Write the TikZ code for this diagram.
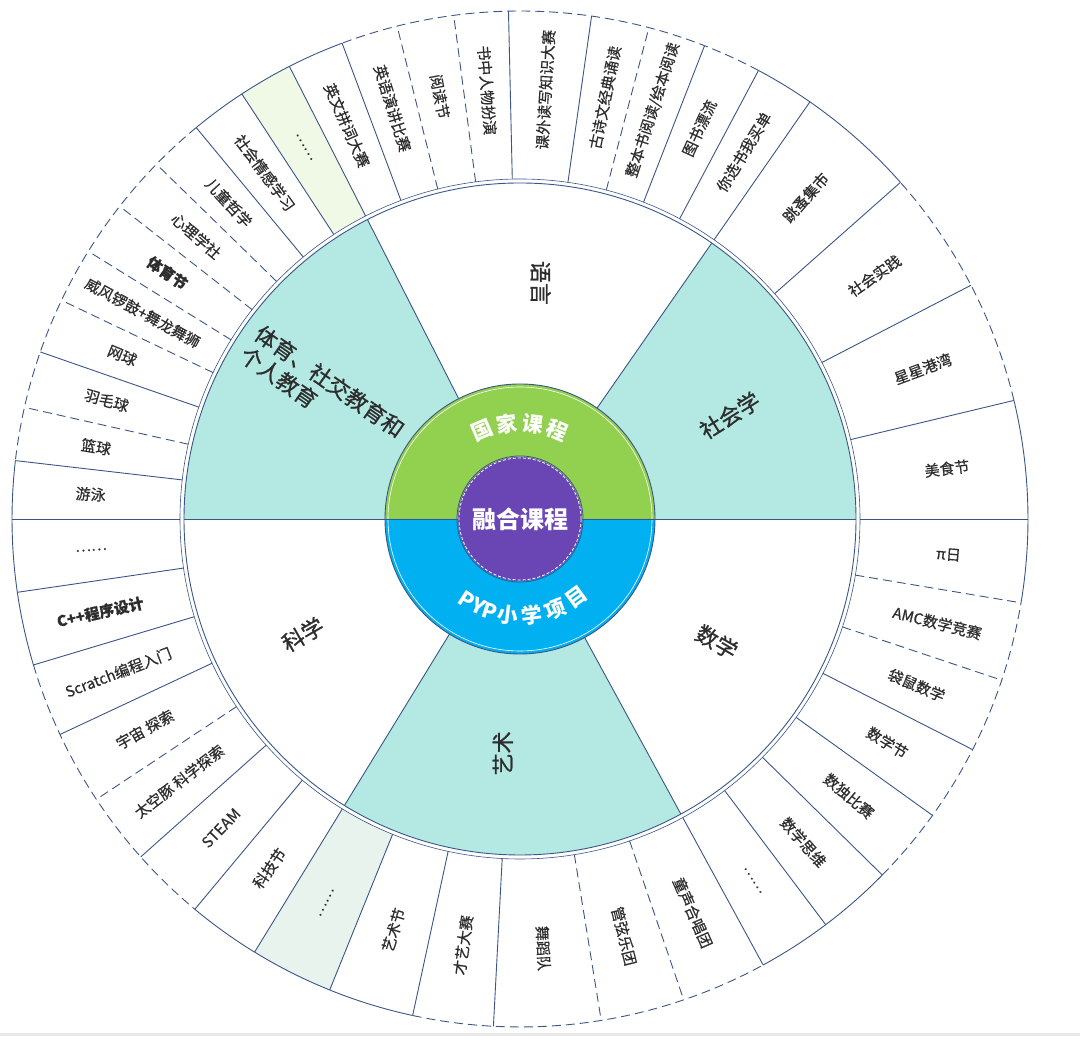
\documentclass[tikz,border=0pt]{standalone}
\usepackage{fontspec}
\setmainfont{Noto Sans CJK SC}
\newfontfamily\medf{Noto Sans CJK SC}[FakeBold=0.6]
\newfontfamily\midf{Noto Sans CJK SC}[FakeBold=0.9]
\definecolor{lc}{RGB}{59,85,135}
\definecolor{tealf}{RGB}{179,233,226}
\definecolor{grn}{RGB}{146,208,80}
\definecolor{blu}{RGB}{0,176,240}
\definecolor{pur}{RGB}{106,70,180}
\definecolor{lgA}{RGB}{240,248,230}
\definecolor{lgB}{RGB}{232,243,238}
\definecolor{txt}{RGB}{45,45,45}
\newcommand\slsh{/}
\begin{document}
\begin{tikzpicture}[x=1pt,y=1pt,line join=round,
  sol/.style={draw=lc,line width=0.9pt},
  dsh/.style={draw=lc,line width=0.9pt,dash pattern=on 9pt off 5pt},
  olab/.style={font=\fontsize{15}{15}\selectfont\medf,text=txt,inner sep=0pt},
  mlab/.style={font=\fontsize{22}{26}\selectfont\midf,text=txt,inner sep=0pt},
  cch/.style={font=\fontsize{21}{21}\selectfont\bfseries,text=white,inner sep=0pt}]
\useasboundingbox (0,0) rectangle (1080,1043);
\fill[gray!18] (0,7) rectangle (1080,10);
\begin{scope}[shift={(520,524)}]
  % light fills in outer ring
  \fill[lgA] (117:340) arc[start angle=117,end angle=123.2,radius=340] -- (123.2:508) arc[start angle=123.2,end angle=117,radius=508] -- cycle;
  \fill[lgB] (238.5:340) arc[start angle=238.5,end angle=248,radius=340] -- (248:508) arc[start angle=248,end angle=238.5,radius=508] -- cycle;
  % middle sectors
  \fill[tealf] (0,0) -- (0:336) arc[start angle=0,end angle=55.2,radius=336] -- cycle;
  \fill[tealf] (0,0) -- (117:336) arc[start angle=117,end angle=180,radius=336] -- cycle;
  \fill[tealf] (0,0) -- (238.5:336) arc[start angle=238.5,end angle=298.6,radius=336] -- cycle;
  \foreach \a in {55.2,117,238.5,298.6} \draw[sol] (\a:135) -- (\a:336);
  \draw[sol] (-336,0) -- (-135,0);
  \draw[sol] (135,0) -- (336,0);
  \draw[sol] (0,0) circle[radius=336];
  \draw[draw=lc,line width=0.6pt] (0,0) circle[radius=340];
  % outer radial lines
  \foreach \a in {0,13.5,27.4,41.5,55.2,62,68.7,81.9,91.3,110.5,117,123.2,129.6,160.8,173.4,180,188.3,196.7,205.1,221.7,230.2,238.5,248,257.8,267,298.6,307,315.5,324.3,333}
    \draw[sol] (\a:340) -- (\a:508);
  \foreach \a in {75.3,97.5,104,135.7,142,148.2,154.5,167.3,213.5,279.2,288.8,341.5,350.5}
    \draw[dsh] (\a:340) -- (\a:508);
  % outer arcs
  \foreach \a/\b in {350.5/373.5,41.5/62,110.5/129.6,173.4/196.7,230.2/257.8,298.6/315.5}
    \draw[sol] (\a:508) arc[start angle=\a,end angle=\b,radius=508];
  \foreach \a/\b in {13.5/41.5,62/110.5,129.6/173.4,196.7/230.2,257.8/298.6,315.5/350.5}
    \draw[dsh] (\a:508) arc[start angle=\a,end angle=\b,radius=508];
  % outer labels
  \foreach \a/\t [count=\i] in {
    6.75/美食节, 20.45/星星港湾, 34.45/社会实践, 48.35/跳蚤集市, 58.6/你选书我买单,
    65.35/图书漂流, 72/整本书阅读\slsh 绘本阅读, 78.6/古诗文经典诵读, 86.6/课外读写知识大赛,
    94.4/书中人物扮演, 100.75/阅读节, 107.25/英语演讲比赛, 113.75/英文拼词大赛, 120.1/……,
    126.4/社会情感学习, 132.65/儿童哲学, 138.85/心理学社, 145.1/\textbf{体育节},
    151.35/威风锣鼓+舞龙舞狮, 157.65/网球, 164/羽毛球, 170.35/篮球, 176.7/游泳,
    184.15/……, 192.5/\textbf{C++程序设计}, 200.9/Scratch编程入门, 209.3/宇宙 探索,
    217.6/太空豚 科学探索, 225.95/STEAM, 234.35/科技节, 243.25/……, 252.9/艺术节,
    262.4/才艺大赛, 273.1/舞蹈队, 284/管弦乐团, 293.7/童声合唱团, 302.8/……,
    311.25/数学思维, 319.9/数独比赛, 328.65/数学节, 337.25/袋鼠数学, 346/AMC数学竞赛, 355.25/π日}
  {
    \pgfmathsetmacro\rot{ifthenelse(and(\a>90,\a<270),\a-180,\a)}
    \node[olab,rotate=\rot] (o\i) at (\a:430) {\t};
  }
  % middle labels
  \node[mlab,rotate=-90] (m1) at (85:237) {语言};
  \node[mlab,rotate=32] (m2) at (26.3:234) {社会学};
  \node[mlab,rotate=-30] (m3) at (-32:232) {数学};
  \node[mlab,rotate=90] (m4) at (265.8:235) {艺术};
  \node[mlab,rotate=30] (m5) at (208:246) {科学};
  \node[mlab,rotate=-35,align=left] (m6) at (147.3:235) {体育、社交教育和\\个人教育};
  % centre rings
  \fill[grn] (135,0) arc[start angle=0,end angle=180,radius=135] -- cycle;
  \fill[blu] (-135,0) arc[start angle=180,end angle=360,radius=135] -- cycle;
  \draw[sol] (0,0) circle[radius=135];
  \draw[draw=white,line width=0.6pt] (0,0) circle[radius=132];
  \draw[sol] (-135,0) -- (135,0);
  \fill[pur] (0,0) circle[radius=62];
  \draw[draw=lc,line width=0.8pt] (0,0) circle[radius=63];
  \draw[draw=white,line width=0.8pt,dash pattern=on 3pt off 2pt] (0,0) circle[radius=61];
  \node[font=\fontsize{24}{24}\selectfont\bfseries,text=white] (c0) at (0,0) {融合课程};
  \foreach \a/\c [count=\i] in {113/国,97.7/家,82.3/课,67/程}
    \node[cch,rotate=\a-90] (g\i) at (\a:96) {\c};
  \foreach \a/\c [count=\i] in {237/P,244.5/Y,252/P,263/小,277.3/学,291.6/项,306/目}
    \node[cch,rotate=\a+90] (p\i) at (\a:97) {\c};
\end{scope}
\end{tikzpicture}
\end{document}
